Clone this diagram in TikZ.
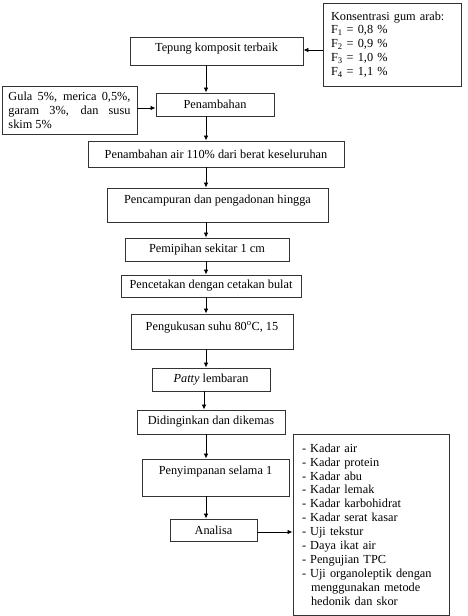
\documentclass[tikz,border=0pt]{standalone}
\usepackage{fontspec}
\setmainfont{Liberation Serif}
\usepackage{tikz}
\usetikzlibrary{positioning,arrows.meta}

\begin{document}
\begin{tikzpicture}[x=1pt,y=1pt,
	% Define a style for all boxes
	kotak/.style={draw=black!80, line width=0.9pt, rectangle, inner sep=0pt, align=center,
		font=\fontsize{12.3}{13.9}\selectfont},
	teks atas/.style 2 args={text height=#1, text depth=#2},
	panah/.style={-{Latex[length=5pt,width=4.5pt]}, line width=0.8pt, black}
	]
	\useasboundingbox (0,0) rectangle (467,-616);

	% Define and place your nodes
	\node[kotak, minimum width=173pt, teks atas={14pt}{14pt}] (tepung) at (216.5,-51) {Tepung komposit terbaik};
	\node[kotak, minimum width=138pt, minimum height=83pt, text width=122pt, inner xsep=8pt, align=left] (gum) at (392,-44.5)
		{Konsentrasi gum arab:\\F\textsubscript{1} = 0,8 \%\\F\textsubscript{2} = 0,9 \%\\F\textsubscript{3} = 1,0 \%\\F\textsubscript{4} = 1,1 \%};
	\node[kotak, minimum width=135pt, minimum height=48pt, text width=122pt, inner xsep=6.5pt, align=justify] (gula) at (69.5,-110)
		{Gula 5\%, merica 0,5\%, garam 3\%, dan susu skim 5\%};
	\node[kotak, minimum width=118pt, minimum height=23pt] (tambah) at (215,-104.5) {Penambahan};
	\node[kotak, minimum width=256pt, minimum height=26pt] (air) at (216,-154) {Penambahan air 110\% dari berat keseluruhan};
	\node[kotak, minimum width=221pt, teks atas={15pt}{19pt}] (campur) at (217.5,-205) {Pencampuran dan pengadonan hingga};
	\node[kotak, minimum width=164pt, minimum height=23pt] (pipih) at (207,-249.5) {Pemipihan sekitar 1 cm};
	\node[kotak, minimum width=180pt, minimum height=22pt] (cetak) at (211,-286) {Pencetakan dengan cetakan bulat};
	\node[kotak, minimum width=162pt, teks atas={16pt}{19pt}] (kukus) at (212,-331.5) {Pengukusan suhu 80\textsuperscript{o}C, 15};
	\node[kotak, minimum width=118pt, minimum height=23pt] (patty) at (211,-379.5) {\textit{Patty} lembaran};
	\node[kotak, minimum width=148pt, minimum height=24pt] (dingin) at (211,-422) {Didinginkan dan dikemas};
	\node[kotak, minimum width=147pt, teks atas={15pt}{22pt}] (simpan) at (215.5,-477.5) {Penyimpanan selama 1};
	\node[kotak, minimum width=87pt, minimum height=22pt] (analisa) at (213.5,-530) {Analisa};
	\node[kotak, minimum width=156pt, minimum height=181pt, text width=138pt, inner xsep=9pt, align=left] (uji) at (371,-524.5)
		{- Kadar air\\- Kadar protein\\- Kadar abu\\- Kadar lemak\\- Kadar karbohidrat\\- Kadar serat kasar\\- Uji tekstur\\
		- Daya ikat air\\- Pengujian TPC\\- Uji organoleptik dengan\\\hspace*{9pt}menggunakan metode\\\hspace*{9pt}hedonik dan skor};

	\coordinate (jalur) at (206,0);
	\coordinate (jalur2) at (204,0);

	% --- Draw the edges ---
	\draw[panah] (gum.west |- 0,-50) -- (tepung.east |- 0,-50);
	\draw[panah] (gula.east |- 0,-108) -- (tambah.west |- 0,-108);
	\draw[panah] (tepung.south -| jalur) -- (tambah.north -| jalur);
	\draw[panah] (tambah.south -| jalur) -- (air.north -| jalur);
	\draw[panah] (air.south -| jalur) -- (campur.north -| jalur);
	\draw[panah] (campur.south -| jalur) -- (pipih.north -| jalur);
	\draw[panah] (pipih.south -| jalur) -- (cetak.north -| jalur);
	\draw[panah] (cetak.south -| jalur) -- (kukus.north -| jalur);
	\draw[panah] (kukus.south -| jalur) -- (patty.north -| jalur);
	\draw[panah] (patty.south -| jalur2) -- (dingin.north -| jalur2);
	\draw[panah] (dingin.south -| jalur) -- (simpan.north -| jalur);
	\draw[panah] (simpan.south -| jalur) -- (analisa.north -| jalur);
	\draw[panah] (analisa.east |- 0,-532) -- (uji.west |- 0,-532);
\end{tikzpicture}
\end{document}
